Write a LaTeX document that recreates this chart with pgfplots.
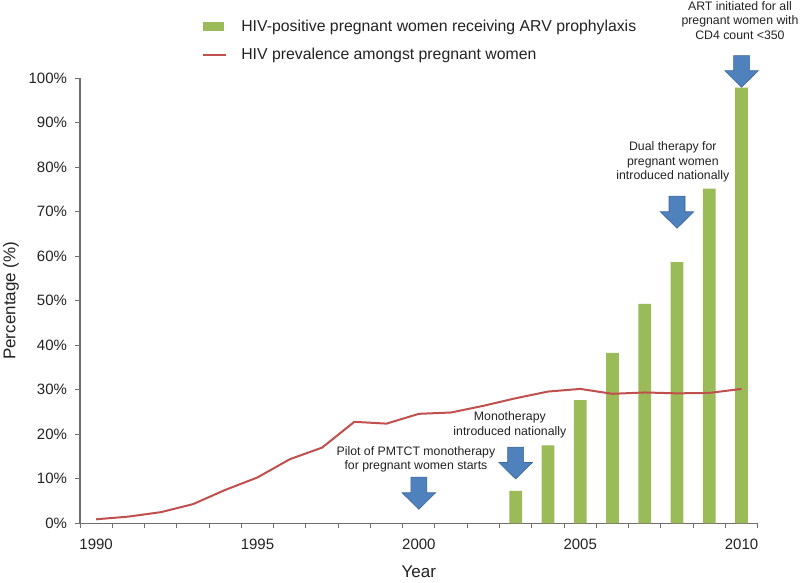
\documentclass[border=0pt]{standalone}
\usepackage{fontspec}
\setmainfont{Liberation Sans}
\usepackage{pgfplots}
\pgfplotsset{compat=1.18}
\definecolor{barg}{HTML}{9BBB59}
\definecolor{liner}{HTML}{C0504D}
\definecolor{arrb}{HTML}{4F81BD}
\definecolor{arre}{HTML}{3A669A}
\definecolor{axg}{HTML}{6E6E6E}
\definecolor{txt}{HTML}{222222}
\newcommand{\blockarrow}[3]{\draw[fill=arrb,draw=arre,line width=0.6pt] (axis cs:#1,#2) -- ++(-16.7pt,16.5pt) -- ++(8.7pt,0pt) -- ++(0pt,#3) -- ++(16pt,0pt) -- ++(0pt,-#3) -- ++(8.7pt,0pt) -- cycle;}
\begin{document}
\begin{tikzpicture}[x=1pt,y=1pt]
\begin{axis}[
  scale only axis, width=677.7pt, height=445pt,
  at={(80pt,59.7pt)}, anchor=south west,
  xmin=1989.5, xmax=2010.5, ymin=0, ymax=100,
  clip=false,
  axis x line*=bottom, axis y line*=left,
  axis line style={axg, line width=1.3pt, -},
  tick align=outside,
  xtick={1990,1995,2000,2005,2010},
  xticklabels={1990,1995,2000,2005,2010},
  every major x tick/.append style={draw=none},
  minor xtick={1989.5,1990.5,...,2010.5},
  minor tick length=5pt, major tick length=5pt,
  every tick/.append style={axg, line width=1pt},
  ytick={0,10,...,100},
  yticklabel={\pgfmathprintnumber{\tick}\%},
  /pgf/number format/assume math mode=true,
  ticklabel style={font=\fontsize{15}{18}\selectfont, text=txt},
  xticklabel style={yshift=-7pt},
  yticklabel style={xshift=-4.5pt},
  xlabel={Year}, ylabel={Percentage (\%)},
  label style={font=\fontsize{17}{20}\selectfont, text=txt},
  x label style={at={(axis description cs:0.5,-0.108)}, anchor=center},
  y label style={at={(axis description cs:-0.1018,0.5)}, anchor=center},
  legend cell align=left,
  legend style={at={(0.1805,1.1308)}, anchor=north west, draw=none, fill=none,
    inner sep=0pt, outer sep=0pt, row sep=15.3pt, column sep=14pt,
    font=\fontsize{15.8}{19}\selectfont, nodes={inner sep=0pt, text=txt}},
]
\addplot[ybar, bar width=12.7pt, fill=barg, draw=none,
  legend image code/.code={\fill[barg] (0pt,-4.5pt) rectangle (21pt,4.5pt);}]
  coordinates {(2003,7.3)(2004,17.5)(2005,27.7)(2006,38.3)(2007,49.3)(2008,58.7)(2009,75.2)(2010,97.9)};
\addlegendentry{HIV-positive pregnant women receiving ARV prophylaxis}
\addplot[liner, line width=2pt, mark=none,
  legend image code/.code={\draw[liner,line width=2pt] (0pt,0pt) -- (23pt,0pt);}]
  coordinates {(1990,0.9)(1991,1.5)(1992,2.5)(1993,4.3)(1994,7.5)(1995,10.3)(1996,14.4)(1997,17.0)(1998,22.8)(1999,22.4)(2000,24.6)(2001,24.9)(2002,26.4)(2003,28.1)(2004,29.6)(2005,30.2)(2006,29.1)(2007,29.4)(2008,29.2)(2009,29.3)(2010,30.2)};
\addlegendentry{HIV prevalence amongst pregnant women}
\blockarrow{2000}{3.15}{15.7pt}
\blockarrow{2003}{9.96}{15.4pt}
\blockarrow{2008}{66.3}{15.7pt}
\blockarrow{2010}{98.0}{15pt}
\node[align=center, font=\fontsize{12.3}{14.7}\selectfont, text=txt] at (axis cs:1999.91,14.4) {Pilot of PMTCT monotherapy\\for pregnant women starts};
\node[align=center, font=\fontsize{12.3}{14.7}\selectfont, text=txt] at (axis cs:2002.82,22.1) {Monotherapy\\introduced nationally};
\node[align=center, font=\fontsize{12.3}{14.7}\selectfont, text=txt] at (axis cs:2007.87,81.2) {Dual therapy for\\pregnant women\\introduced nationally};
\node[align=center, font=\fontsize{12.3}{14.7}\selectfont, text=txt] at (axis cs:2009.95,113.0) {ART initiated for all\\pregnant women with\\CD4 count <350};
\end{axis}
\pgfresetboundingbox
\useasboundingbox (0,0) rectangle (800,583);
\end{tikzpicture}
\end{document}
